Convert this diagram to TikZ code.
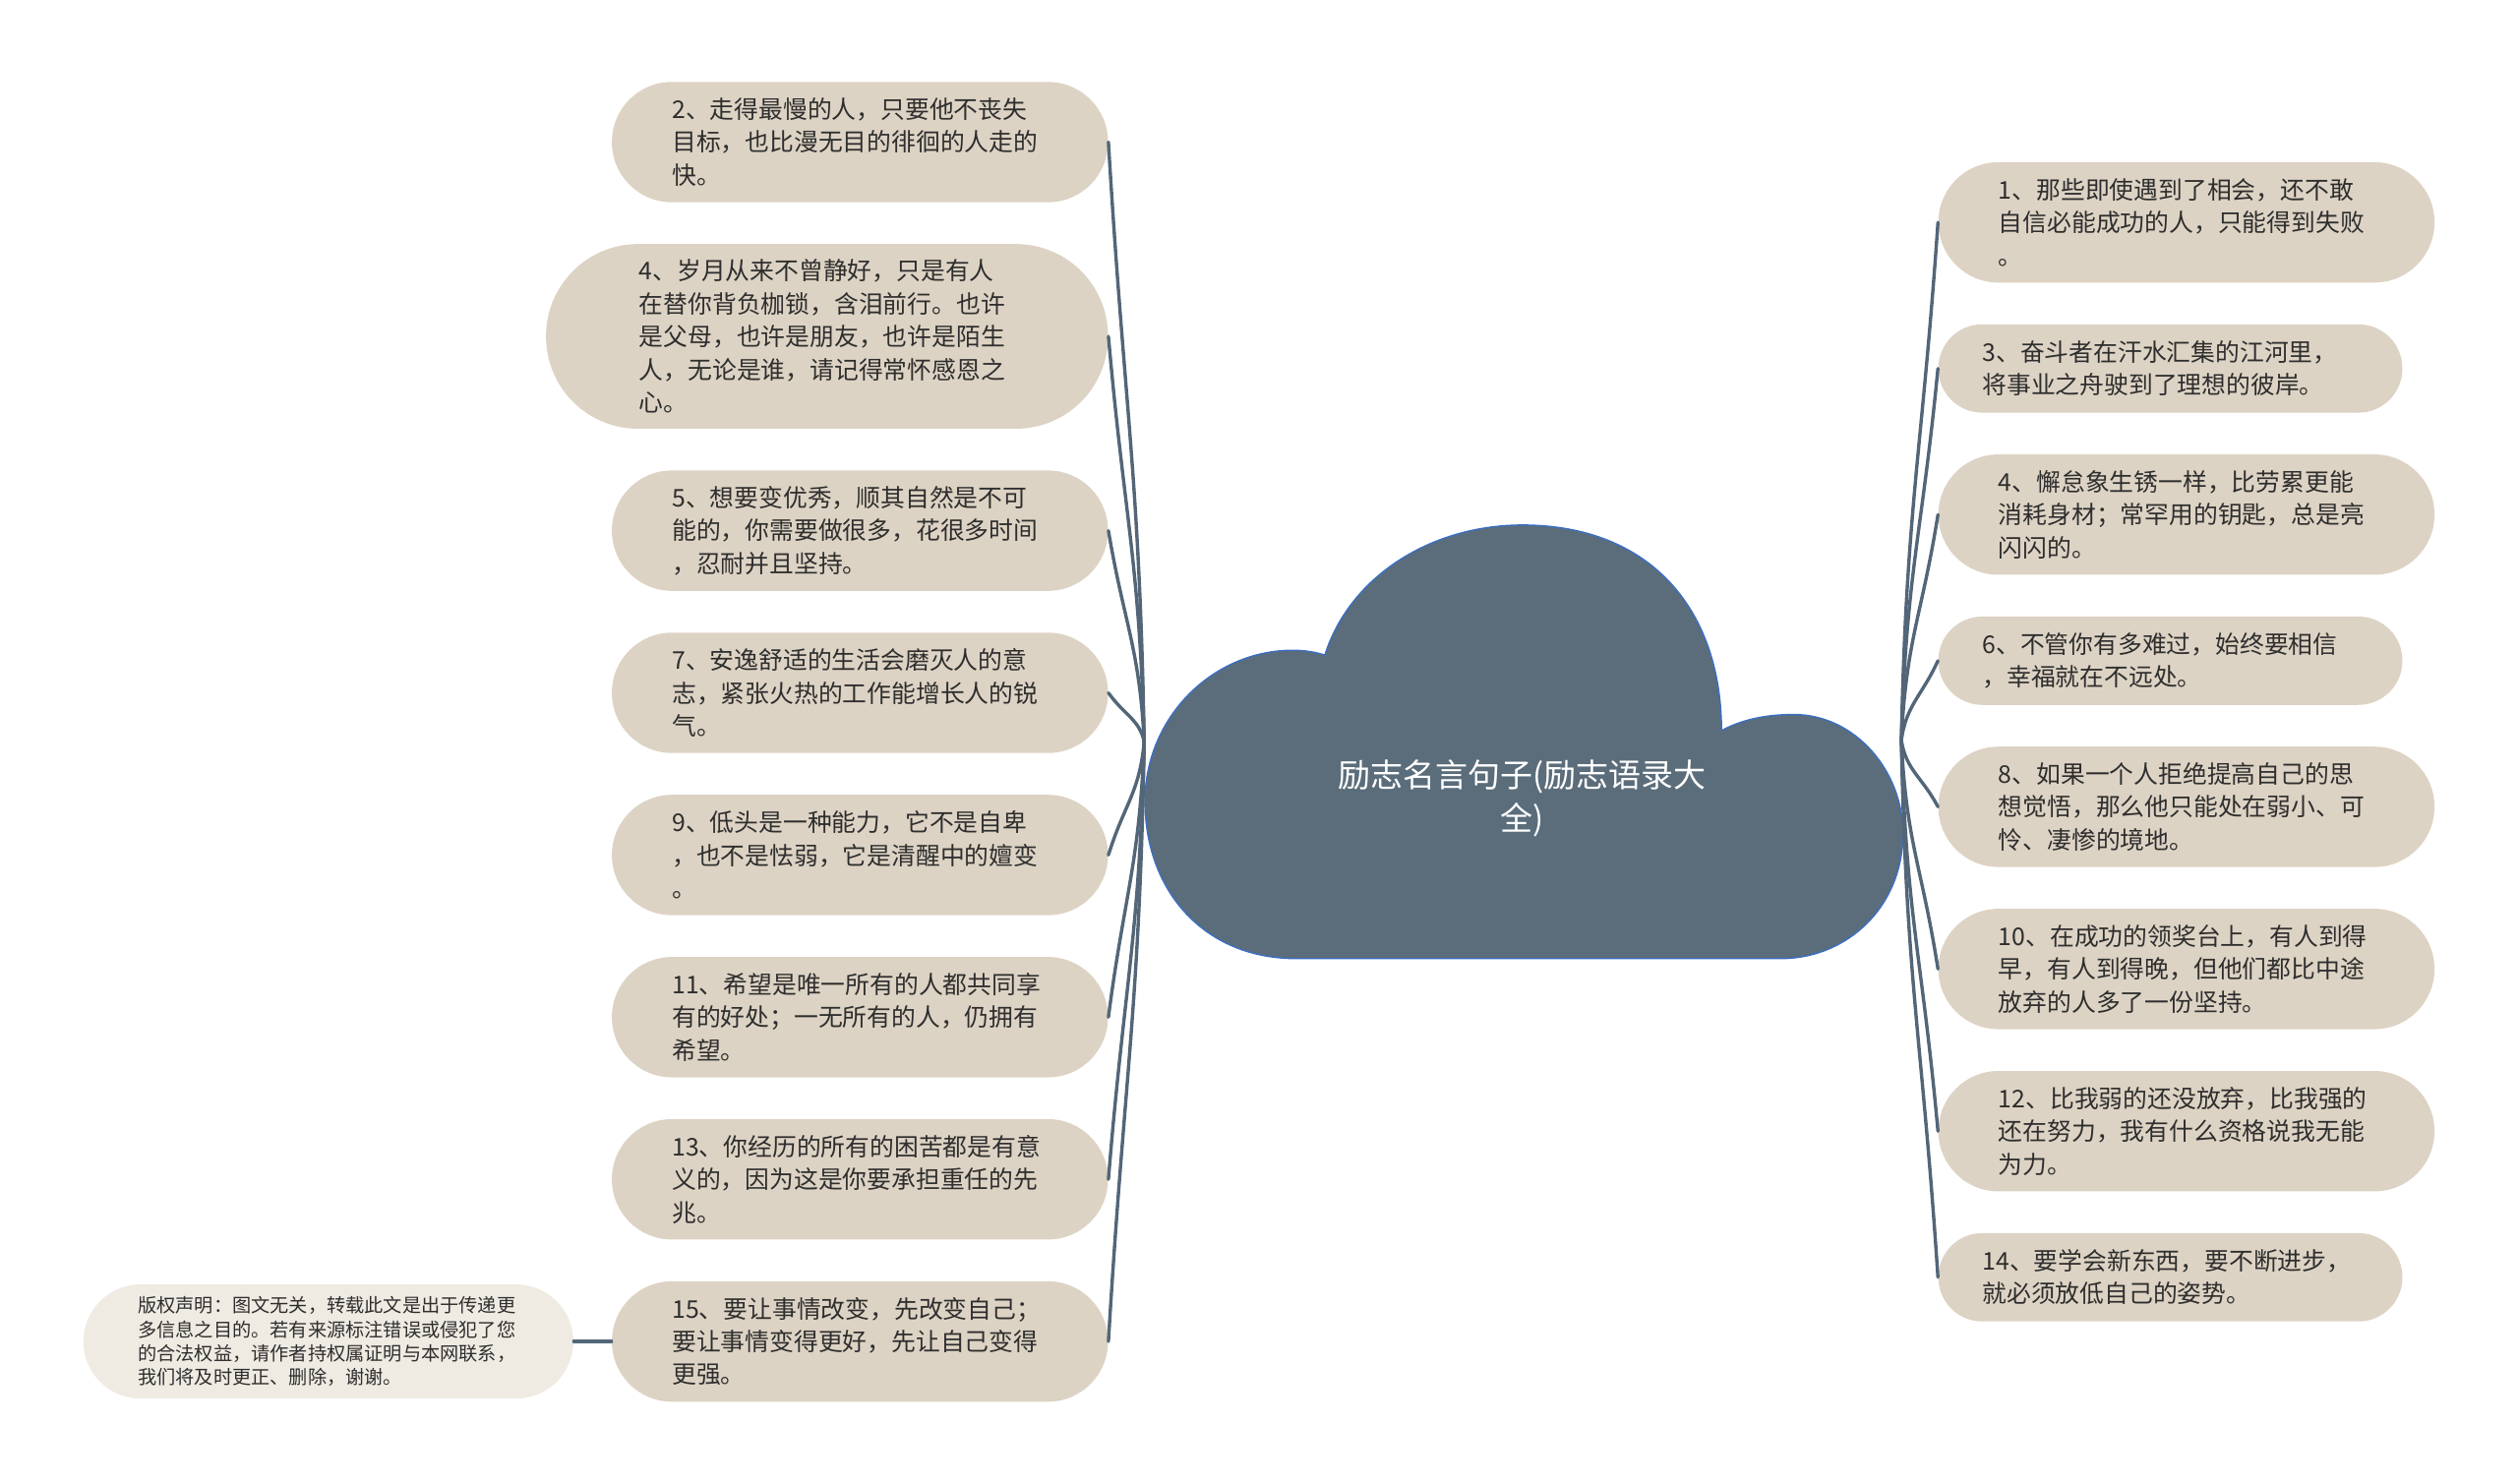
\documentclass[tikz,border=0pt]{standalone}
\usepackage{fontspec}
\newfontfamily\cjk{Noto Sans CJK SC}
\definecolor{boxfill}{HTML}{DDD3C4}
\definecolor{copyfill}{HTML}{EFEBE3}
\definecolor{cloudfill}{HTML}{5B6D7A}
\definecolor{cloudline}{HTML}{3B6FC2}
\definecolor{connc}{HTML}{536678}
\definecolor{txt}{HTML}{2E2E2E}
\begin{document}
\begin{tikzpicture}[x=0.816327pt,y=-0.816327pt,
  pillbase/.style={fill=boxfill, inner xsep=0pt, inner ysep=0pt, align=left,
    text width=191pt, text=txt, font=\cjk\fontsize{12.4}{16.7}\selectfont},
  pillA/.style={pillbase, minimum width=252.2pt, minimum height=61.2pt, rounded corners=30.5pt},
  pillB/.style={pillbase, minimum width=285.7pt, minimum height=93.9pt, rounded corners=46.8pt},
  pillC/.style={pillbase, minimum width=235.9pt, minimum height=44.9pt, rounded corners=22.3pt},
  copybox/.style={fill=copyfill, inner xsep=0pt, inner ysep=0pt, align=left,
    text width=193.5pt, text=txt, minimum width=249pt, minimum height=58pt,
    rounded corners=28.9pt, font=\cjk\fontsize{9.6}{12.2}\selectfont},
  conn/.style={draw=connc, line width=1.7pt, line cap=round},
  titletext/.style={align=center, text=white, font=\cjk\fontsize{16.5}{22}\selectfont}
]
\useasboundingbox (0,0) rectangle (1568,923.7);

% cloud
\path[fill=cloudfill, draw=cloudline, line width=0.7pt]
  (807,597) .. controls (750,597) and (713,555) .. (713,499)
  .. controls (713,447) and (755,405) .. (805,405)
  .. controls (812,405) and (819,406) .. (825,408)
  .. controls (840,360) and (890,327) .. (948,327)
  .. controls (1028,327) and (1072,380) .. (1072,455)
  .. controls (1085,448) and (1100,445) .. (1117,445)
  .. controls (1155,445) and (1185,480) .. (1185,519)
  .. controls (1185,565) and (1150,597) .. (1109,597) -- cycle;
\node[titletext] (title) at (948,497.5) {励志名言句子(励志语录大\\全)};

\coordinate (lroot) at (712.5,462);
\coordinate (rroot) at (1184,461);

% left nodes
\node[pillA] (L2) at (535.5,88.5) {2、走得最慢的人，只要他不丧失\\目标，也比漫无目的徘徊的人走的\\快。};
\node[pillB] (L4) at (515,209.5) {4、岁月从来不曾静好，只是有人\\在替你背负枷锁，含泪前行。也许\\是父母，也许是朋友，也许是陌生\\人，无论是谁，请记得常怀感恩之\\心。};
\node[pillA] (L5) at (535.5,330.5) {5、想要变优秀，顺其自然是不可\\能的，你需要做很多，花很多时间\\，忍耐并且坚持。};
\node[pillA] (L7) at (535.5,431.5) {7、安逸舒适的生活会磨灭人的意\\志，紧张火热的工作能增长人的锐\\气。};
\node[pillA] (L9) at (535.5,532.5) {9、低头是一种能力，它不是自卑\\，也不是怯弱，它是清醒中的嬗变\\。};
\node[pillA] (L11) at (535.5,633.5) {11、希望是唯一所有的人都共同享\\有的好处；一无所有的人，仍拥有\\希望。};
\node[pillA] (L13) at (535.5,734.5) {13、你经历的所有的困苦都是有意\\义的，因为这是你要承担重任的先\\兆。};
\node[pillA] (L15) at (535.5,835.5) {15、要让事情改变，先改变自己；\\要让事情变得更好，先让自己变得\\更强。};

% right nodes
\node[pillA] (R1) at (1361.5,138.5) {1、那些即使遇到了相会，还不敢\\自信必能成功的人，只能得到失败\\。};
\node[pillC] (R3) at (1351.5,229.5) {3、奋斗者在汗水汇集的江河里，\\将事业之舟驶到了理想的彼岸。};
\node[pillA] (R4) at (1361.5,320.5) {4、懈怠象生锈一样，比劳累更能\\消耗身材；常罕用的钥匙，总是亮\\闪闪的。};
\node[pillC] (R6) at (1351.5,411.5) {6、不管你有多难过，始终要相信\\，幸福就在不远处。};
\node[pillA] (R8) at (1361.5,502.5) {8、如果一个人拒绝提高自己的思\\想觉悟，那么他只能处在弱小、可\\怜、凄惨的境地。};
\node[pillA] (R10) at (1361.5,603.5) {10、在成功的领奖台上，有人到得\\早，有人到得晚，但他们都比中途\\放弃的人多了一份坚持。};
\node[pillA] (R12) at (1361.5,704.5) {12、比我弱的还没放弃，比我强的\\还在努力，我有什么资格说我无能\\为力。};
\node[pillC] (R14) at (1351.5,795.5) {14、要学会新东西，要不断进步，\\就必须放低自己的姿势。};

% copyright
\node[copybox] (copy) at (204.5,835.5) {版权声明：图文无关，转载此文是出于传递更\\多信息之目的。若有来源标注错误或侵犯了您\\的合法权益，请作者持权属证明与本网联系，\\我们将及时更正、删除，谢谢。};

% left connectors
\draw[conn] (L2.east) .. controls +(10,168) and +(-3,-168) .. (lroot);
\draw[conn] (L4.east) .. controls +(10,114) and +(-3,-114) .. (lroot);
\draw[conn] (L5.east) .. controls +(10,59) and +(-3,-59) .. (lroot);
\draw[conn] (L7.east) .. controls +(10,14) and +(-3,-14) .. (lroot);
\draw[conn] (L9.east) .. controls +(10,-32) and +(-3,32) .. (lroot);
\draw[conn] (L11.east) .. controls +(10,-77) and +(-3,77) .. (lroot);
\draw[conn] (L13.east) .. controls +(10,-123) and +(-3,123) .. (lroot);
\draw[conn] (L15.east) .. controls +(10,-168) and +(-3,168) .. (lroot);

% right connectors
\draw[conn] (R1.west) .. controls +(-10,145) and +(3,-145) .. (rroot);
\draw[conn] (R3.west) .. controls +(-10,104) and +(3,-104) .. (rroot);
\draw[conn] (R4.west) .. controls +(-10,63) and +(3,-63) .. (rroot);
\draw[conn] (R6.west) .. controls +(-10,22) and +(3,-22) .. (rroot);
\draw[conn] (R8.west) .. controls +(-10,-19) and +(3,19) .. (rroot);
\draw[conn] (R10.west) .. controls +(-10,-64) and +(3,64) .. (rroot);
\draw[conn] (R12.west) .. controls +(-10,-110) and +(3,110) .. (rroot);
\draw[conn] (R14.west) .. controls +(-10,-151) and +(3,151) .. (rroot);

% copyright connector
\draw[conn] (copy.east) -- (L15.west);
\end{tikzpicture}
\end{document}
